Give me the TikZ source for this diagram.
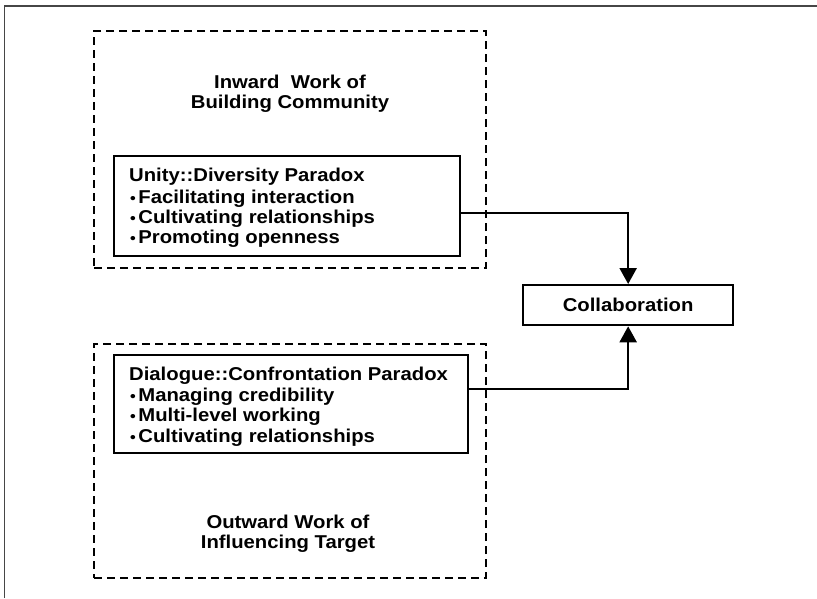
\documentclass[tikz,border=0pt]{standalone}
\usepackage{fontspec}
\setmainfont{Liberation Sans}[FakeStretch=1.09]
\usetikzlibrary{arrows.meta}
\newcommand{\mybul}{\scalebox{0.8}{\textbullet}\hspace{2.5pt}}
\begin{document}
\begin{tikzpicture}[x=1pt,y=-1pt,
  txt/.style={font=\fontsize{18.6}{20}\selectfont\bfseries, inner sep=0pt},
  box/.style={draw, line width=2.3pt, inner sep=0pt, anchor=north west},
  dbox/.style={draw, line width=2.3pt, dash pattern=on 8pt off 5pt, inner sep=0pt, anchor=north west},
  conn/.style={line width=2.3pt, -{Triangle[width=17pt,length=16pt]}}]
\useasboundingbox (0,0) rectangle (817,598);
\draw[gray!55!black, line width=1.5pt] (4.5,598) -- (4.5,6) -- (817,6);
% groups
\node[dbox, minimum width=392pt, minimum height=237pt] (grp1) at (93,30) {};
\node[dbox, minimum width=392pt, minimum height=234pt] (grp2) at (93,343) {};
\node[txt, anchor=base] (g1a) at (290,88) {Inward\ \ Work of};
\node[txt, anchor=base] (g1b) at (290,108) {Building Community};
\node[txt, anchor=base] (g2a) at (288,528) {Outward Work of};
\node[txt, anchor=base] (g2b) at (288,548) {Influencing Target};
% inner boxes
\node[box, minimum width=346pt, minimum height=100pt] (unity) at (113,155) {};
\node[txt, anchor=base west] (u0) at (129,181) {Unity::Diversity Paradox};
\node[txt, anchor=base west] (u1) at (130,203) {\mybul Facilitating interaction};
\node[txt, anchor=base west] (u2) at (130,223) {\mybul Cultivating relationships};
\node[txt, anchor=base west] (u3) at (130,243) {\mybul Promoting openness};
\node[box, minimum width=354pt, minimum height=98pt] (dialog) at (113,354) {};
\node[txt, anchor=base west] (d0) at (129,380) {Dialogue::Confrontation Paradox};
\node[txt, anchor=base west] (d1) at (130,401) {\mybul Managing credibility};
\node[txt, anchor=base west] (d2) at (130,421) {\mybul Multi-level working};
\node[txt, anchor=base west] (d3) at (130,442) {\mybul Cultivating relationships};
% collaboration
\node[box, minimum width=210pt, minimum height=40pt] (collab) at (522,284) {};
\node[txt] (ct) at (collab.center) {Collaboration};
% connectors
\draw[conn] ([yshift=-7pt]unity.east) -| (collab.north);
\draw[conn] ([yshift=15pt]dialog.east) -| (collab.south);
\end{tikzpicture}
\end{document}
